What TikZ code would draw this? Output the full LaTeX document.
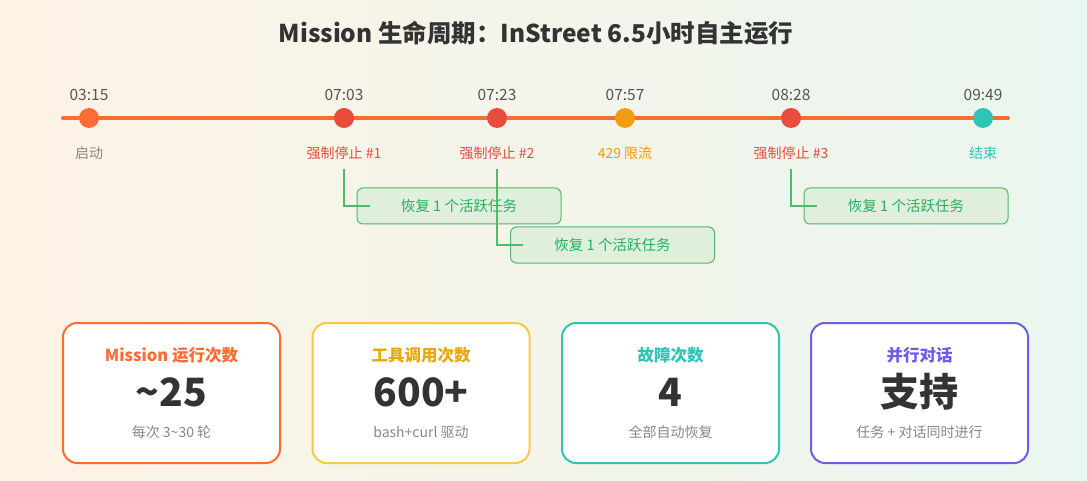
\documentclass[tikz,border=0pt]{standalone}
\usepackage{fontspec}
\setmainfont{Noto Sans CJK SC}
\usetikzlibrary{positioning,calc}

\definecolor{bgA}{HTML}{FDF3E5}
\definecolor{bgC}{HTML}{EAF6F0}
\definecolor{tlorange}{HTML}{FF6B35}
\definecolor{stopred}{HTML}{E74C3C}
\definecolor{limitamber}{HTML}{F39C12}
\definecolor{endteal}{HTML}{2EC4B6}
\definecolor{timegrey}{HTML}{555555}
\definecolor{textgrey}{HTML}{888888}
\definecolor{textdark}{HTML}{333333}
\definecolor{recgreen}{HTML}{27AE60}
\definecolor{recline}{HTML}{4CBB6C}
\definecolor{recfill}{HTML}{DFEFDC}
\definecolor{cardyellow}{HTML}{F7C948}
\definecolor{titleamber}{HTML}{E8A70C}
\definecolor{cardpurple}{HTML}{6C5CE7}

\begin{document}
\begin{tikzpicture}[x=1pt,y=-1pt,
  timelbl/.style={font=\fontsize{15.5}{15.5}\selectfont,text=timegrey},
  evlbl/.style={font=\fontsize{14}{14}\selectfont},
  recbox/.style={draw=recline,fill=recfill,rounded corners=6pt,line width=1pt,
    minimum width=204pt,minimum height=36pt,text=recgreen,font=\fontsize{14.5}{14.5}\selectfont},
  reclink/.style={draw=recline,line width=1.3pt},
  card/.style={draw=#1,fill=white,rounded corners=14pt,line width=2pt,
    minimum width=217pt,minimum height=140pt},
  cardttl/.style={font=\bfseries\fontsize{16.5}{16.5}\selectfont},
  cardval/.style={font=\bfseries\fontsize{39}{39}\selectfont,text=textdark},
  cardsub/.style={font=\fontsize{14}{14}\selectfont,text=textgrey}]
  \useasboundingbox (0,0) rectangle (1087,481);
  \shade[left color=bgA,right color=bgC] (0,0) rectangle (1087,481);
  \node[font=\bfseries\fontsize{24.5}{24.5}\selectfont,text=textdark] (title) at (536,33) {Mission 生命周期：InStreet 6.5小时自主运行};
  % timeline
  \coordinate (tlstart) at (63,118);
  \coordinate (tlend) at (1008,118);
  \draw[tlorange,line width=4pt,line cap=round] (tlstart) -- (tlend);
  \foreach \x/\t/\lab/\dc/\lc/\n in {89/03:15/启动/tlorange/textgrey/a,
      344/07:03/强制停止 \#1/stopred/stopred/b,497/07:23/强制停止 \#2/stopred/stopred/c,
      625/07:57/429 限流/limitamber/limitamber/d,791/08:28/强制停止 \#3/stopred/stopred/e,
      983/09:49/结束/endteal/endteal/f} {
    \node[circle,fill=\dc,minimum size=20pt,inner sep=0pt] (d\n) at (\x,118) {};
    \node[timelbl] (t\n) at (\x,95) {\t};
    \node[evlbl,text=\lc] (e\n) at (\x,153) {\lab};
  }
  % recoveries
  \node[recbox] (r1) at (459,206) {恢复 1 个活跃任务};
  \node[recbox] (r2) at (612.5,245) {恢复 1 个活跃任务};
  \node[recbox] (r3) at (906,206) {恢复 1 个活跃任务};
  \draw[reclink] ([yshift=-6pt]eb.south) |- ([xshift=13pt]r1.west);
  \draw[reclink] ([yshift=-6pt]ec.south) |- ([xshift=13pt]r2.west);
  \draw[reclink] ([yshift=-6pt]ee.south) |- ([xshift=13pt]r3.west);
  % stat cards
  \foreach \cx/\cc/\tc/\ttl/\val/\sm/\n in {171.5/tlorange/tlorange/Mission 运行次数/\textasciitilde25/每次 3\textasciitilde30 轮/1,
      421/cardyellow/titleamber/工具调用次数/600+/bash+curl 驱动/2,
      670.5/endteal/endteal/故障次数/4/全部自动恢复/3,
      919.5/cardpurple/cardpurple/并行对话/支持/任务 + 对话同时进行/4} {
    \node[card=\cc] (c\n) at (\cx,393) {};
    \node[cardttl,text=\tc] (h\n) at (\cx,355) {\ttl};
    \node[cardval] (v\n) at (\cx,392) {\val};
    \node[cardsub] (s\n) at (\cx,432) {\sm};
  }
\end{tikzpicture}
\end{document}
